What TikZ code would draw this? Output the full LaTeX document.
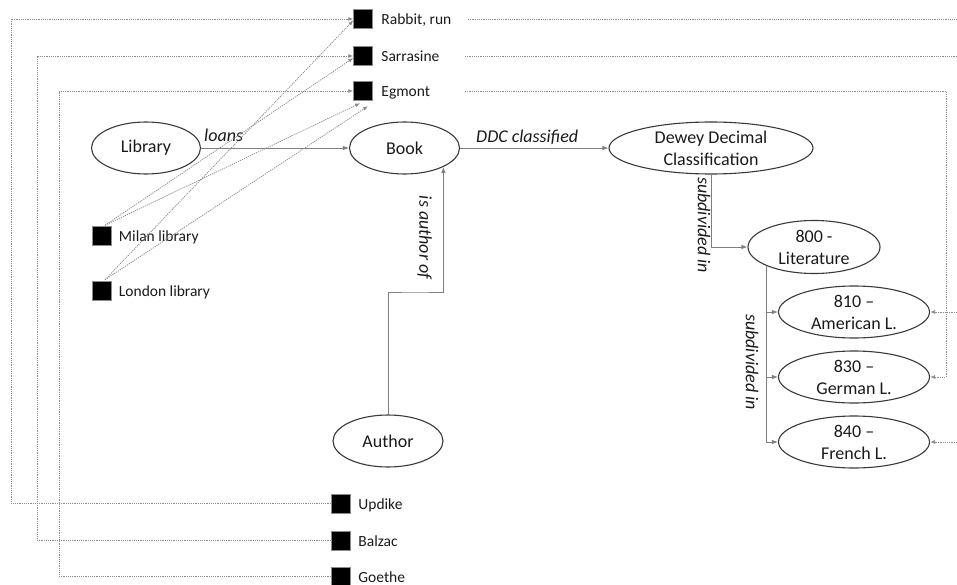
\documentclass[tikz,border=0pt]{standalone}
\usepackage{fontspec}
\setmainfont{Carlito}
\usetikzlibrary{shapes.geometric,arrows.meta,calc}
\definecolor{txt}{HTML}{1A1A1A}
\definecolor{edgec}{HTML}{7F7F7F}
\definecolor{ovalc}{HTML}{3A3A3A}
\definecolor{dotc}{HTML}{8C8C8C}
\tikzset{
 concept/.style={ellipse, draw=ovalc, line width=1.1pt, inner sep=0pt, text=txt,
   font=\fontsize{18}{22}\selectfont, align=center},
 inst/.style={rectangle, fill=black, draw=dotc, line width=0.5pt, minimum size=19pt, inner sep=0pt},
 instlabel/.style={anchor=base west, text=txt, font=\fontsize{15.5}{18}\selectfont, inner sep=0pt},
 rel/.style={draw=edgec, line width=0.9pt, -{Latex[length=6pt,width=4.5pt]}},
 reltext/.style={text=txt, font=\fontsize{18}{22}\selectfont\itshape, inner sep=0pt},
 link/.style={draw=dotc, line width=0.8pt, dash pattern=on 1.2pt off 1pt, -{Latex[length=5pt,width=4pt]}},
 linkplain/.style={draw=dotc, line width=0.8pt, dash pattern=on 1.2pt off 1pt},
}
\begin{document}
\begin{tikzpicture}[x=1pt,y=-1pt]
\useasboundingbox (0,0) rectangle (957,585);

% concepts
\node[concept, minimum width=109pt, minimum height=52pt] (lib) at (146,148) {Library};
\node[concept, minimum width=110pt, minimum height=52pt] (book) at (404.5,148) {Book};
\node[concept, minimum width=204pt, minimum height=52pt] (dewey) at (711,148) {Dewey Decimal\\Classification};
\node[concept, minimum width=132pt, minimum height=53pt] (lit) at (814,247) {800 -\\Literature};
\node[concept, minimum width=151pt, minimum height=52pt] (am) at (854,312) {810 –\\American L.};
\node[concept, minimum width=151pt, minimum height=52pt] (ger) at (854,377) {830 –\\German L.};
\node[concept, minimum width=151pt, minimum height=52pt] (fr) at (854,442) {840 –\\French L.};
\node[concept, minimum width=110pt, minimum height=52pt] (author) at (388,441) {Author};

% instances
\node[inst] (rabbit) at (363,19) {};
\node[inst] (sarr) at (363,56) {};
\node[inst] (egm) at (363,91) {};
\node[inst] (milan) at (102,236) {};
\node[inst] (london) at (102,290.5) {};
\node[inst] (updike) at (340.5,503.5) {};
\node[inst] (balzac) at (340.5,540.5) {};
\node[inst] (goethe) at (340.5,576.5) {};

\node[instlabel] (rabbitL) at ($(rabbit.east)+(8.5,5.5)$) {Rabbit, run};
\node[instlabel] (sarrL) at ($(sarr.east)+(8.5,5.5)$) {Sarrasine};
\node[instlabel] (egmL) at ($(egm.east)+(8.5,5.5)$) {Egmont};
\node[instlabel] (milanL) at ($(milan.east)+(7,5.5)$) {Milan library};
\node[instlabel] (londonL) at ($(london.east)+(7,5.5)$) {London library};
\node[instlabel] (updikeL) at ($(updike.east)+(8,5.5)$) {Updike};
\node[instlabel] (balzacL) at ($(balzac.east)+(8,5.5)$) {Balzac};
\node[instlabel] (goetheL) at ($(goethe.east)+(8,5.5)$) {Goethe};

% relations
\draw[rel] (lib) -- (book);
\node[reltext, anchor=base west] (loansT) at (204,142) {loans};
\draw[rel] (book) -- (dewey);
\node[reltext, anchor=base west] (ddcT) at (476,143) {DDC classified};
\draw[rel] (dewey.south) |- (lit.west);
\node[reltext, rotate=-90] (sub1T) at (704,225) {subdivided in};
\draw[rel] (lit.-158.4) |- (am.west);
\draw[rel] (lit.-158.4) |- (ger.west);
\draw[rel] (lit.-158.4) |- (fr.west);
\node[reltext, rotate=-90] (sub2T) at (752,362) {subdivided in};
\coordinate (bend) at (415,292);
\draw[rel] (author.north) |- (bend) -| (book.-26.3);
\node[reltext, rotate=-90] (authT) at (424.5,237.5) {is author of};

% instance links (left)
\coordinate (lx1) at (11,300);
\coordinate (lx2) at (37,300);
\coordinate (lx3) at (59,300);
\draw[link] (updike.west) -| (lx1) |- (rabbit.west);
\draw[link] (balzac.west) -| (lx2) |- (sarr.west);
\draw[link] (goethe.west) -| (lx3) |- (egm.west);

% loans links
\coordinate (milanTop) at ($(milan.north)+(3,-1)$);
\coordinate (londonTop) at ($(london.north)+(3,-1)$);
\draw[link] (milanTop) -- ($(sarr.west)+(0,2)$);
\draw[link] (milanTop) -- ($(egm.south)+(-3,2.5)$);
\draw[link] (londonTop) -- ($(rabbit.west)+(0,1.5)$);
\draw[link] (londonTop) -- ($(egm.south)+(5,5.5)$);

% instance links (right)
\coordinate (rabbitS) at (468,19);
\coordinate (rabbitE) at (957,19);
\coordinate (sarrS) at (465,56);
\coordinate (sarrE) at (957,56);
\coordinate (egmS) at (465,91);
\coordinate (egmV) at (946,200);
\coordinate (amE) at (957,312);
\coordinate (frE) at (957,442);
\draw[linkplain] (rabbitS) -- (rabbitE);
\draw[linkplain] (sarrS) -- (sarrE);
\draw[link] (egmS) -| (egmV) |- (ger.east);
\draw[link] (amE) -- (am.east);
\draw[link] (frE) -- (fr.east);
\end{tikzpicture}
\end{document}
